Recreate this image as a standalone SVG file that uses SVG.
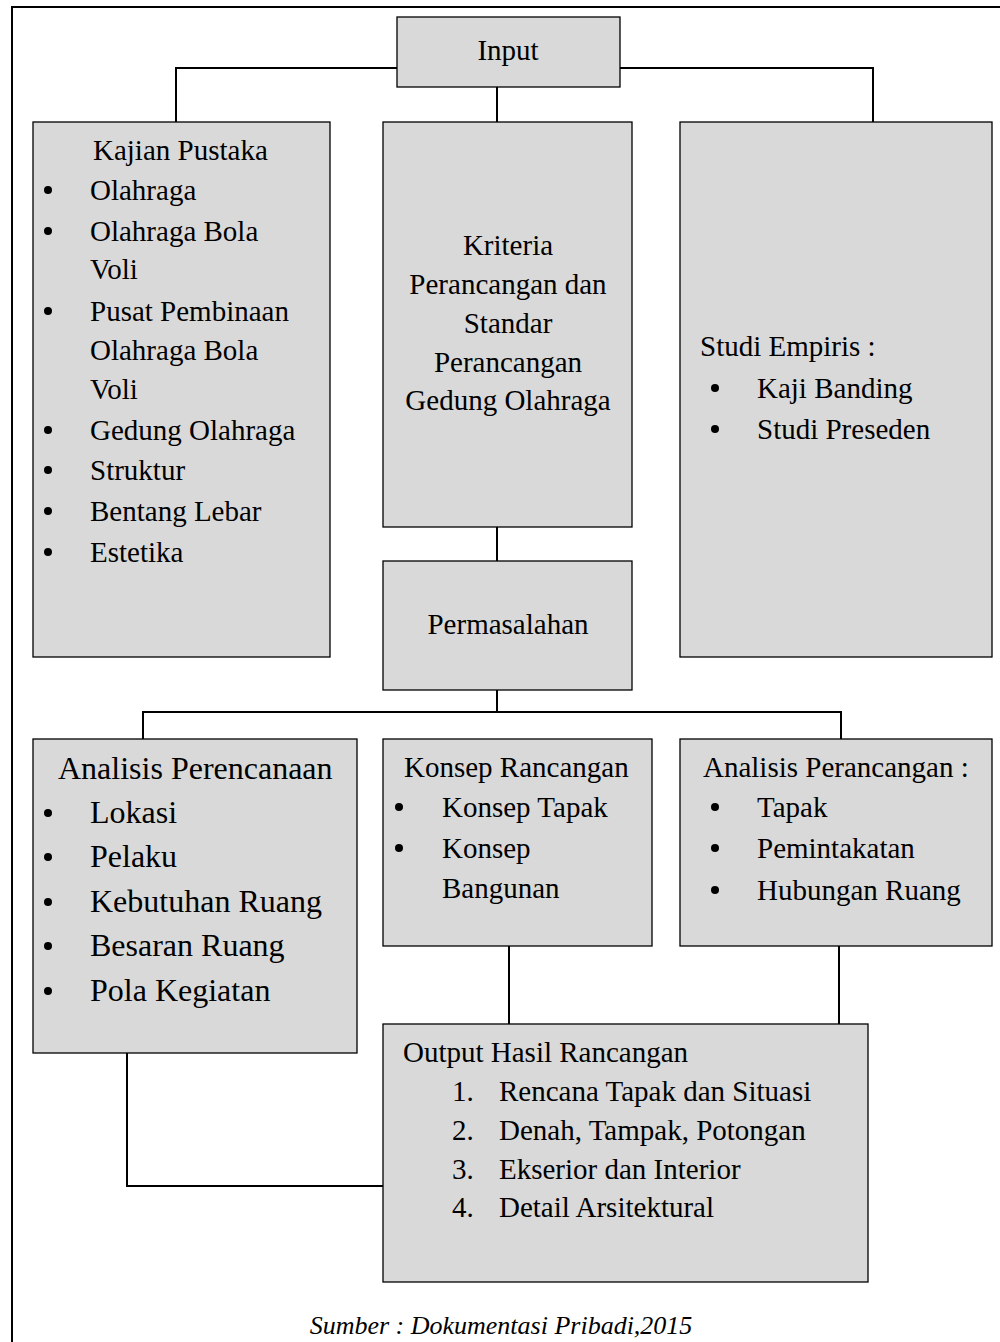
<svg xmlns="http://www.w3.org/2000/svg" width="1000" height="1342" viewBox="0 0 1000 1342">
<style>
.box{fill:#d9d9d9;stroke:#000;stroke-width:1.3}
.ln{fill:none;stroke:#000;stroke-width:2}
text{font-family:"Liberation Serif","Times New Roman",serif;font-size:29px;fill:#000}
.c{text-anchor:middle}
.big{font-size:32px}
.cap{font-style:italic;font-size:26px}
.dot{fill:#000}
</style>
<rect width="1000" height="1342" fill="#fff"/>
<g id="frame"><path class="ln" d="M12,1342 V7 H1000"/></g>
<g id="connectors">
<path class="ln" d="M397,68 H176 V122"/>
<path class="ln" d="M620,68 H873 V122"/>
<path class="ln" d="M497,87 V122"/>
<path class="ln" d="M497,527 V561"/>
<path class="ln" d="M497,690 V712"/>
<path class="ln" d="M143,739 V712 H841 V739"/>
<path class="ln" d="M509,946 V1024"/>
<path class="ln" d="M839,946 V1024"/>
<path class="ln" d="M127,1053 V1186 H383"/>
</g>
<g id="input"><rect class="box" x="397" y="17" width="223" height="70"/><text class="c" x="508" y="60">Input</text></g>
<g id="kajian">
<rect class="box" x="33" y="122" width="297" height="535"/>
<text x="93" y="160">Kajian Pustaka</text>
<circle class="dot" cx="48" cy="190" r="4"/><text x="90" y="200">Olahraga</text>
<circle class="dot" cx="48" cy="231" r="4"/><text x="90" y="241">Olahraga Bola</text>
<text x="90" y="279">Voli</text>
<circle class="dot" cx="48" cy="311" r="4"/><text x="90" y="321">Pusat Pembinaan</text>
<text x="90" y="360">Olahraga Bola</text>
<text x="90" y="399">Voli</text>
<circle class="dot" cx="48" cy="430" r="4"/><text x="90" y="440">Gedung Olahraga</text>
<circle class="dot" cx="48" cy="470" r="4"/><text x="90" y="480">Struktur</text>
<circle class="dot" cx="48" cy="511" r="4"/><text x="90" y="521">Bentang Lebar</text>
<circle class="dot" cx="48" cy="552" r="4"/><text x="90" y="562">Estetika</text>
</g>
<g id="kriteria">
<rect class="box" x="383" y="122" width="249" height="405"/>
<text class="c" x="508" y="255">Kriteria</text>
<text class="c" x="508" y="294">Perancangan dan</text>
<text class="c" x="508" y="333">Standar</text>
<text class="c" x="508" y="372">Perancangan</text>
<text class="c" x="508" y="410">Gedung Olahraga</text>
</g>
<g id="studi">
<rect class="box" x="680" y="122" width="312" height="535"/>
<text x="700" y="356">Studi Empiris :</text>
<circle class="dot" cx="715" cy="388" r="4"/><text x="757" y="398">Kaji Banding</text>
<circle class="dot" cx="715" cy="429" r="4"/><text x="757" y="439">Studi Preseden</text>
</g>
<g id="permasalahan">
<rect class="box" x="383" y="561" width="249" height="129"/>
<text class="c" x="508" y="634">Permasalahan</text>
</g>
<g id="analisis-perencanaan">
<rect class="box" x="33" y="739" width="324" height="314"/>
<text class="big" x="58" y="779">Analisis Perencanaan</text>
<circle class="dot" cx="48" cy="813" r="4"/><text class="big" x="90" y="823">Lokasi</text>
<circle class="dot" cx="48" cy="857" r="4"/><text class="big" x="90" y="867">Pelaku</text>
<circle class="dot" cx="48" cy="902" r="4"/><text class="big" x="90" y="912">Kebutuhan Ruang</text>
<circle class="dot" cx="48" cy="946" r="4"/><text class="big" x="90" y="956">Besaran Ruang</text>
<circle class="dot" cx="48" cy="991" r="4"/><text class="big" x="90" y="1001">Pola Kegiatan</text>
</g>
<g id="konsep">
<rect class="box" x="383" y="739" width="269" height="207"/>
<text x="404" y="777">Konsep Rancangan</text>
<circle class="dot" cx="399" cy="807" r="4"/><text x="442" y="817">Konsep Tapak</text>
<circle class="dot" cx="399" cy="848" r="4"/><text x="442" y="858">Konsep</text>
<text x="442" y="898">Bangunan</text>
</g>
<g id="analisis-perancangan">
<rect class="box" x="680" y="739" width="312" height="207"/>
<text x="703" y="777">Analisis Perancangan :</text>
<circle class="dot" cx="715" cy="807" r="4"/><text x="757" y="817">Tapak</text>
<circle class="dot" cx="715" cy="848" r="4"/><text x="757" y="858">Pemintakatan</text>
<circle class="dot" cx="715" cy="890" r="4"/><text x="757" y="900">Hubungan Ruang</text>
</g>
<g id="output">
<rect class="box" x="383" y="1024" width="485" height="258"/>
<text x="403" y="1062">Output Hasil Rancangan</text>
<text x="452" y="1101">1.</text><text x="499" y="1101">Rencana Tapak dan Situasi</text>
<text x="452" y="1140">2.</text><text x="499" y="1140">Denah, Tampak, Potongan</text>
<text x="452" y="1179">3.</text><text x="499" y="1179">Ekserior dan Interior</text>
<text x="452" y="1217">4.</text><text x="499" y="1217">Detail Arsitektural</text>
</g>
<text class="cap c" x="501" y="1334">Sumber : Dokumentasi Pribadi,2015</text>
</svg>
